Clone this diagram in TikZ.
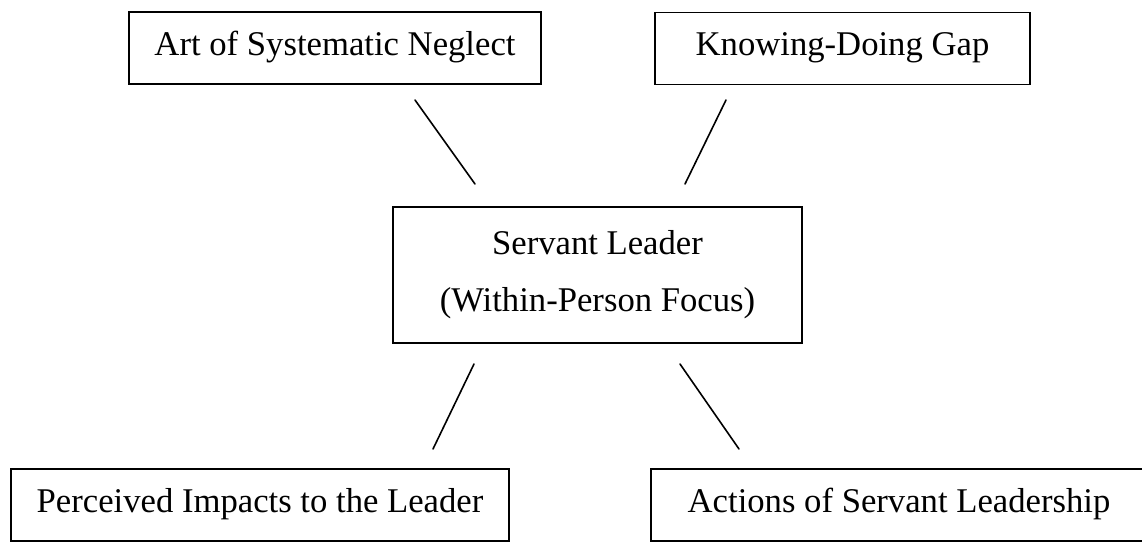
\documentclass[tikz,border=0pt]{standalone}
\usepackage{fontspec}
\setmainfont{Liberation Serif}
\begin{document}
\begin{tikzpicture}[x=0.75pt,y=-0.75pt,
  font=\fontsize{26pt}{42.75pt}\selectfont,
  box/.style={draw,line width=1.4pt,inner sep=0pt,text height=32.5pt,text depth=21.5pt},
  link/.style={line width=1.2pt,line cap=round}]
  \useasboundingbox (0,0) rectangle (1142,542);

  % top boxes
  \node[box,minimum width=309pt] (neglect) at (335,48) {Art of Systematic Neglect};
  \node[box,minimum width=281.25pt] (gap) at (842.5,48.5) {Knowing-Doing Gap};

  % centre box
  \node[draw,line width=1.4pt,inner sep=0pt,minimum width=306.75pt,minimum height=102pt,align=center] (leader) at (597.5,275) {Servant Leader\\(Within-Person Focus)};

  % bottom boxes
  \node[box,minimum width=373.5pt] (impacts) at (260,505) {Perceived Impacts to the Leader};
  \node[box,minimum width=372pt] (actions) at (899,505) {Actions of Servant Leadership};

  % free-standing lines between the boxes
  \coordinate (neglect-end) at (415,100);
  \coordinate (leader-nw) at (475,184);
  \coordinate (gap-end) at (726,100);
  \coordinate (leader-ne) at (685,184);
  \coordinate (leader-sw) at (474,364);
  \coordinate (impacts-end) at (433,449);
  \coordinate (leader-se) at (680,364);
  \coordinate (actions-end) at (739,449);

  \draw[link] (neglect-end) -- (leader-nw);
  \draw[link] (gap-end) -- (leader-ne);
  \draw[link] (leader-sw) -- (impacts-end);
  \draw[link] (leader-se) -- (actions-end);
\end{tikzpicture}
\end{document}
